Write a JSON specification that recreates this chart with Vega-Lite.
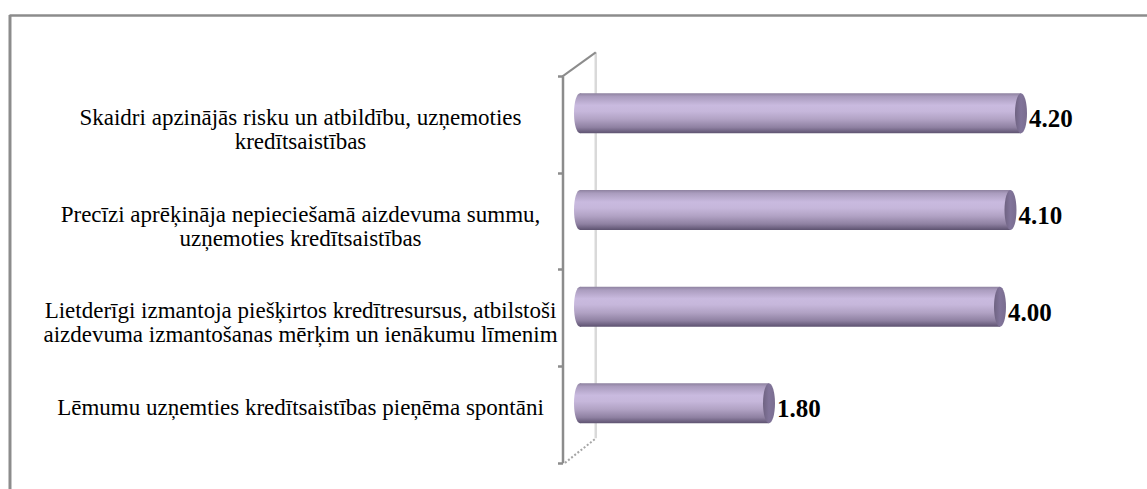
{
  "$schema": "https://vega.github.io/schema/vega-lite/v6.json",
  "width": 1138,
  "height": 474,
  "autosize": {"type": "none"},
  "padding": {"left": 9, "top": 15, "right": 0, "bottom": 0},
  "background": "#ffffff",
  "config": {
    "view": {"stroke": null},
    "axis": {"labelFont": "Liberation Serif", "labelFontSize": 23, "labelColor": "#000000"},
    "text": {"font": "Liberation Serif"}
  },
  "data": {
    "values": [
      {"item": "Skaidri apzinājās risku un atbildību, uzņemoties\nkredītsaistības", "value": 4.2},
      {"item": "Precīzi aprēķināja nepieciešamā aizdevuma summu,\nuzņemoties kredītsaistības", "value": 4.1},
      {"item": "Lietderīgi izmantoja piešķirtos kredītresursus, atbilstoši\naizdevuma izmantošanas mērķim un ienākumu līmenim", "value": 4.0},
      {"item": "Lēmumu uzņemties kredītsaistības pieņēma spontāni", "value": 1.8}
    ]
  },
  "layer": [
    {
      "data": {"values": [{}]},
      "mark": {"type": "rule", "color": "#8c8c8c", "strokeWidth": 3},
      "encoding": {"x": {"datum": -5.4286}}
    },
    {
      "data": {"values": [{}]},
      "mark": {"type": "rule", "color": "#d9d9d9", "strokeWidth": 2.5, "yOffset": -72, "y2Offset": 24},
      "encoding": {
        "x": {"datum": 0.15},
        "y": {"datum": "Skaidri apzinājās risku un atbildību, uzņemoties\nkredītsaistības"},
        "y2": {"datum": "Lēmumu uzņemties kredītsaistības pieņēma spontāni"}
      }
    },
    {
      "data": {"values": [{}]},
      "mark": {"type": "rule", "color": "#8c8c8c", "strokeWidth": 2, "yOffset": -48, "y2Offset": -72},
      "encoding": {
        "x": {"datum": -0.1667},
        "x2": {"datum": 0.15},
        "y": {"datum": "Skaidri apzinājās risku un atbildību, uzņemoties\nkredītsaistības"},
        "y2": {"datum": "Skaidri apzinājās risku un atbildību, uzņemoties\nkredītsaistības"}
      }
    },
    {
      "data": {"values": [{}]},
      "mark": {"type": "rule", "color": "#a6a6a6", "strokeWidth": 2, "strokeDash": [2, 2], "yOffset": 48.5, "y2Offset": 24},
      "encoding": {
        "x": {"datum": -0.143},
        "x2": {"datum": 0.15},
        "y": {"datum": "Lēmumu uzņemties kredītsaistības pieņēma spontāni"},
        "y2": {"datum": "Lēmumu uzņemties kredītsaistības pieņēma spontāni"}
      }
    },
    {
      "mark": {"type": "bar", "height": 40, "yOffset": -11,
        "fill": {"gradient": "linear", "x1": 0, "y1": 0, "x2": 0, "y2": 1,
          "stops": [
            {"offset": 0, "color": "#8e82a0"},
            {"offset": 0.08, "color": "#aa9cbe"},
            {"offset": 0.3, "color": "#c9badf"},
            {"offset": 0.45, "color": "#c6b7db"},
            {"offset": 0.65, "color": "#b1a2c4"},
            {"offset": 0.85, "color": "#8f81a2"},
            {"offset": 1, "color": "#5d5270"}
          ]}},
      "encoding": {
        "x": {"field": "value", "type": "quantitative", "title": null,
          "scale": {"type": "linear", "domain": [-5.438, 5.4], "nice": false, "zero": false},
          "axis": {"orient": "top", "domain": true, "domainColor": "#8c8c8c", "domainWidth": 2.5, "ticks": false, "labels": false, "grid": false, "title": null}},
        "x2": {"datum": 0},
        "y": {"field": "item", "type": "nominal", "title": null,
          "scale": {"type": "band", "domain": [
            "Skaidri apzinājās risku un atbildību, uzņemoties\nkredītsaistības",
            "Precīzi aprēķināja nepieciešamā aizdevuma summu,\nuzņemoties kredītsaistības",
            "Lietderīgi izmantoja piešķirtos kredītresursus, atbilstoši\naizdevuma izmantošanas mērķim un ienākumu līmenim",
            "Lēmumu uzņemties kredītsaistības pieņēma spontāni"],
            "range": [61, 447.7], "paddingInner": 0, "paddingOuter": 0},
          "axis": {"orient": "left", "offset": -553.5, "domain": true, "domainColor": "#8c8c8c", "domainWidth": 2.5,
            "ticks": true, "tickBand": "extent", "tickSize": 5, "tickWidth": 2.5, "tickColor": "#8c8c8c",
            "grid": false, "title": null,
            "labelFont": "Liberation Serif", "labelFontSize": 23, "labelColor": "#000000",
            "labelAlign": "center", "labelBaseline": "middle", "labelLimit": 1000, "labelLineHeight": 24,
            "labelExpr": "split(datum.label, '\\n')",
            "labelPadding": 257.5,
            "labelOffset": -7}}
      }
    },
    {
      "mark": {"type": "point", "shape": "M0,-1A0.3,1,0,1,1,0,1A0.3,1,0,1,1,0,-1Z", "size": 1600, "filled": true, "opacity": 1, "strokeWidth": 0, "yOffset": -11,
        "fill": {"gradient": "linear", "x1": 0, "y1": 0, "x2": 0, "y2": 1,
          "stops": [
            {"offset": 0, "color": "#8e82a0"},
            {"offset": 0.08, "color": "#aa9cbe"},
            {"offset": 0.3, "color": "#c9badf"},
            {"offset": 0.45, "color": "#c6b7db"},
            {"offset": 0.65, "color": "#b1a2c4"},
            {"offset": 0.85, "color": "#8f81a2"},
            {"offset": 1, "color": "#5d5270"}
          ]}},
      "encoding": {
        "x": {"datum": 0},
        "y": {"field": "item", "type": "nominal"}
      }
    },
    {
      "mark": {"type": "point", "shape": "M0,-1A0.3,1,0,1,1,0,1A0.3,1,0,1,1,0,-1Z", "size": 1600, "filled": true, "opacity": 1, "strokeWidth": 0, "yOffset": -11,
        "fill": {"gradient": "linear", "x1": 0, "y1": 0, "x2": 1, "y2": 0,
          "stops": [
            {"offset": 0, "color": "#6f6382"},
            {"offset": 0.5, "color": "#81749a"},
            {"offset": 1, "color": "#7a6d8f"}
          ]}},
      "encoding": {
        "x": {"field": "value", "type": "quantitative"},
        "y": {"field": "item", "type": "nominal"}
      }
    },
    {
      "mark": {"type": "text", "align": "left", "baseline": "middle", "dx": 8, "yOffset": -5,
        "font": "Liberation Serif", "fontSize": 25, "fontWeight": "bold", "color": "#000000"},
      "encoding": {
        "x": {"field": "value", "type": "quantitative"},
        "y": {"field": "item", "type": "nominal"},
        "text": {"field": "value", "type": "quantitative", "format": ".2f"}
      }
    }
  ]
}
